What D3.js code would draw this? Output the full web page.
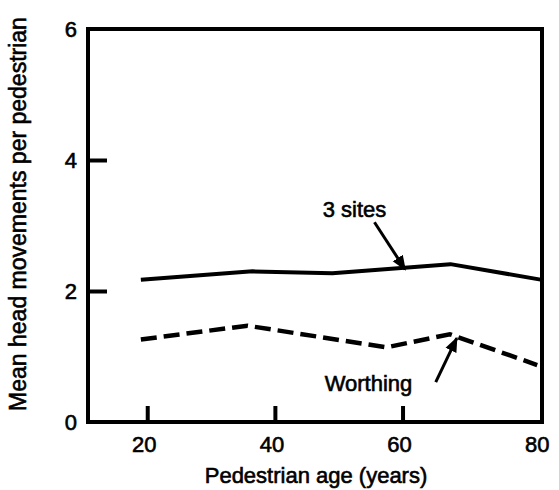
<!DOCTYPE html>
<html>
<head>
<meta charset="utf-8">
<script src="https://cdn.jsdelivr.net/npm/d3@7"></script>
<style>
  body { margin: 0; background: #fff; }
  svg text { font-family: "Liberation Sans", Arial, sans-serif; fill: #000; stroke: #000; stroke-width: 0.6px; }
</style>
</head>
<body>
<svg id="chart" width="559" height="490"></svg>
<script>
// values
var ages3Sites = [19, 36.5, 49, 67.5, 81.85];
var vals3Sites = [2.17, 2.30, 2.27, 2.41, 2.17];
var agesWorthing = [19, 35.7, 57.5, 67.4, 81.1];
var valsWorthing = [1.26, 1.47, 1.14, 1.34, 0.87];

var xTicks = [20, 40, 60, 80];
var yTicks = [0, 2, 4, 6];

// annotation labels + arrows, in data units: [age, value]
var labelNames = ["3 sites", "Worthing"];
var labelPos = [[47.5, 3.13], [47.8, 0.47]];
var arrowFrom = [[55.6, 3.05], [65.2, 0.61]];
var arrowTo = [[60.4, 2.33], [68.5, 1.28]];

var svg = d3.select("#chart");
// note: "top" is taken by window.top, so prefix these
var plotL = 88, plotR = 542, plotT = 29, plotB = 422;

var x = d3.scaleLinear().domain([10.72, 81.85]).range([plotL, plotR]);
var y = d3.scaleLinear().domain([0, 6]).range([plotB, plotT]);

// frame
svg.append("rect")
  .attr("x", plotL).attr("y", plotT)
  .attr("width", plotR - plotL).attr("height", plotB - plotT)
  .attr("fill", "none").attr("stroke", "#000").attr("stroke-width", 4);

// inward ticks
var xAxis = d3.axisTop(x).tickValues(xTicks.filter(function(d){ return d < 80; }))
  .tickSize(16).tickFormat("");
svg.append("g").attr("transform", "translate(0," + plotB + ")").call(xAxis)
  .call(function(g){ g.select(".domain").remove(); })
  .selectAll("line").attr("stroke", "#000").attr("stroke-width", 4);

var yAxis = d3.axisRight(y).tickValues(yTicks.filter(function(d){ return d > 0 && d < 6; }))
  .tickSize(19).tickFormat("");
svg.append("g").attr("transform", "translate(" + plotL + ",0)").call(yAxis)
  .call(function(g){ g.select(".domain").remove(); })
  .selectAll("line").attr("stroke", "#000").attr("stroke-width", 4);

// tick labels
svg.selectAll("text.xl").data(xTicks).enter().append("text")
  .attr("class", "xl")
  .attr("x", function(d){ return d == 80 ? x(d) + 7 : x(d) - 3; })
  .attr("y", 452)
  .attr("text-anchor", "middle")
  .style("font-size", "22px")
  .text(function(d){ return d; });

svg.selectAll("text.yl").data(yTicks).enter().append("text")
  .attr("class", "yl")
  .attr("x", 77)
  .attr("y", function(d){ return y(d); })
  .attr("dy", "0.36em")
  .attr("text-anchor", "end")
  .style("font-size", "22px")
  .text(function(d){ return d; });

// axis titles
svg.append("text")
  .attr("x", 316).attr("y", 483)
  .attr("text-anchor", "middle")
  .style("font-size", "22px")
  .text("Pedestrian age (years)");

svg.append("text")
  .attr("transform", "translate(26,214) rotate(-90)")
  .attr("text-anchor", "middle")
  .style("font-size", "23px")
  .text("Mean head movements per pedestrian");

// series
var line = d3.line()
  .x(function(d){ return x(d[0]); })
  .y(function(d){ return y(d[1]); });

svg.append("path")
  .datum(d3.zip(ages3Sites, vals3Sites))
  .attr("d", line)
  .attr("fill", "none").attr("stroke", "#000")
  .attr("stroke-width", 4).attr("stroke-linejoin", "round");

svg.append("path")
  .datum(d3.zip(agesWorthing, valsWorthing))
  .attr("d", line)
  .attr("fill", "none").attr("stroke", "#000")
  .attr("stroke-width", 4.5).attr("stroke-dasharray", "16,7");

// annotations
svg.append("defs").append("marker")
  .attr("id", "head")
  .attr("viewBox", "0 0 10 10")
  .attr("refX", 9).attr("refY", 5)
  .attr("markerWidth", 5).attr("markerHeight", 5)
  .attr("markerUnits", "strokeWidth")
  .attr("orient", "auto")
  .append("path").attr("d", "M0,1 L10,5 L0,9 Z").attr("fill", "#000");

labelNames.forEach(function(name, i){
  svg.append("text")
    .attr("x", x(labelPos[i][0])).attr("y", y(labelPos[i][1]))
    .style("font-size", "22px")
    .text(name);
  svg.append("line")
    .attr("x1", x(arrowFrom[i][0])).attr("y1", y(arrowFrom[i][1]))
    .attr("x2", x(arrowTo[i][0])).attr("y2", y(arrowTo[i][1]))
    .attr("stroke", "#000").attr("stroke-width", 3)
    .attr("marker-end", "url(#head)");
});
</script>
</body>
</html>
